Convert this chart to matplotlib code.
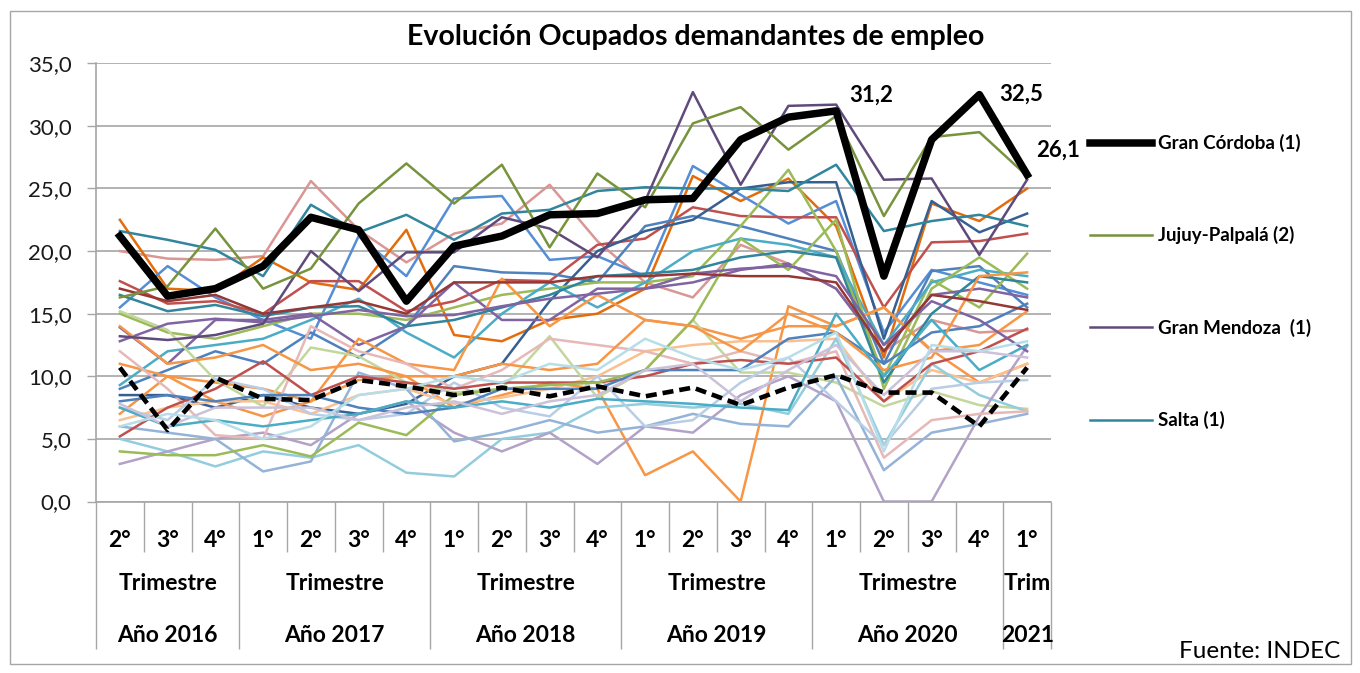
import matplotlib
matplotlib.use("Agg")
import matplotlib.pyplot as plt
from matplotlib.patches import Rectangle
import numpy as np

plt.rcParams['font.family'] = ['Lato', 'DejaVu Sans']

# ---------------- data ----------------
quarters = ["2°", "3°", "4°", "1°", "2°", "3°", "4°", "1°", "2°", "3°", "4°",
            "1°", "2°", "3°", "4°", "1°", "2°", "3°", "4°", "1°"]
year_groups = [("Trimestre", "Año 2016", 0, 2), ("Trimestre", "Año 2017", 3, 6),
               ("Trimestre", "Año 2018", 7, 10), ("Trimestre", "Año 2019", 11, 14),
               ("Trimestre", "Año 2020", 15, 18), ("Trim", "2021", 19, 19)]
yticks = [0, 5, 10, 15, 20, 25, 30, 35]
ytick_labels = ["0,0", "5,0", "10,0", "15,0", "20,0", "25,0", "30,0", "35,0"]

cordoba = [21.2, 16.4, 17.0, 18.8, 22.7, 21.7, 16.0, 20.4, 21.2, 22.9,
           23.0, 24.1, 24.2, 28.9, 30.7, 31.2, 18.0, 28.9, 32.5, 26.1]
dashed = [10.7, 5.7, 9.9, 8.2, 8.1, 9.7, 9.2, 8.5, 9.1, 8.4,
          9.2, 8.4, 9.1, 7.7, 9.1, 10.1, 8.7, 8.7, 6.0, 10.7]
jujuy = [16.3, 17.2, 21.8, 17.0, 18.6, 23.8, 27.0, 23.8, 26.9, 20.3,
         26.2, 23.5, 30.2, 31.5, 28.1, 30.8, 22.8, 29.1, 29.5, 26.0]
mendoza = [13.2, 12.9, 13.3, 14.2, 20.0, 16.8, 19.9, 19.9, 22.7, 21.8,
           19.5, 24.0, 32.7, 25.3, 31.6, 31.7, 25.7, 25.8, 19.7, 25.7]
salta = [21.6, 20.9, 20.1, 18.0, 23.7, 21.5, 22.9, 20.9, 23.0, 23.3,
         24.8, 25.1, 25.0, 25.0, 24.8, 26.9, 21.6, 22.4, 22.9, 22.0]

others = [
    ("#D99694", [20.0, 19.4, 19.3, 19.6, 25.6, 21.7, 19.1, 21.4, 22.2, 25.3, 20.8, 17.5, 16.3, 20.5, 19.0, 17.0, 12.0, 14.5, 13.5, 13.7]),
    ("#E46C0A", [22.5, 17.0, 16.8, 19.5, 17.5, 16.9, 21.7, 13.3, 12.8, 14.5, 15.0, 17.0, 26.0, 24.0, 25.8, 22.0, 11.5, 23.8, 22.4, 25.0]),
    ("#558ED5", [15.5, 18.8, 16.3, 14.5, 13.0, 21.2, 18.0, 24.2, 24.4, 19.3, 19.6, 18.0, 26.8, 24.5, 22.2, 24.0, 13.5, 18.5, 17.5, 16.5]),
    ("#C0504D", [17.6, 15.8, 16.0, 15.0, 17.6, 17.6, 15.2, 16.0, 17.7, 17.6, 20.5, 21.0, 23.5, 22.8, 22.7, 22.7, 15.5, 20.7, 20.8, 21.4]),
    ("#4F81BD", [9.0, 10.5, 12.0, 11.0, 13.5, 11.5, 14.0, 18.8, 18.3, 18.2, 17.5, 22.0, 22.8, 22.0, 21.0, 20.0, 11.0, 18.4, 18.8, 15.5]),
    ("#376092", [8.5, 8.5, 7.5, 8.5, 7.5, 7.0, 7.8, 10.0, 11.0, 16.0, 20.0, 21.6, 22.5, 25.0, 25.5, 25.5, 13.0, 24.0, 21.5, 23.0]),
    ("#9BBB59", [15.0, 13.5, 13.0, 14.0, 15.0, 15.0, 14.5, 15.5, 16.5, 17.0, 17.5, 17.5, 18.0, 22.0, 26.5, 20.0, 10.0, 17.7, 15.5, 19.8]),
    ("#4BACC6", [9.3, 12.0, 12.5, 13.0, 14.5, 16.2, 13.5, 11.5, 15.0, 17.5, 15.5, 17.5, 20.0, 21.0, 20.5, 19.5, 12.5, 17.5, 18.5, 18.0]),
    ("#8064A2", [13.9, 11.0, 14.5, 14.5, 15.0, 12.5, 14.0, 17.5, 14.5, 14.5, 17.0, 17.0, 17.5, 18.5, 19.0, 17.0, 12.0, 16.5, 17.0, 16.3]),
    ("#F79646", [7.0, 10.0, 8.0, 6.8, 8.0, 9.7, 10.0, 7.5, 8.5, 9.5, 9.0, 2.1, 4.0, 0.0, 15.6, 14.0, 15.5, 12.1, 9.5, 11.0]),
    ("#F79646", [11.0, 10.0, 9.5, 9.0, 8.0, 13.0, 11.0, 10.5, 17.8, 14.0, 16.5, 14.5, 14.0, 13.0, 14.0, 14.0, 15.5, 12.0, 12.5, 15.2]),
    ("#FAC090", [6.5, 7.5, 8.0, 8.0, 7.0, 8.5, 9.0, 7.8, 8.3, 9.0, 10.0, 12.0, 12.5, 12.8, 12.8, 13.0, 8.0, 10.5, 9.5, 11.0]),
    ("#C3D69B", [15.2, 13.7, 9.7, 7.6, 12.3, 11.6, 9.5, 8.7, 9.0, 13.2, 8.3, 10.5, 14.5, 10.3, 10.3, 9.5, 7.6, 8.8, 7.7, 7.4]),
    ("#93CDDD", [5.0, 4.0, 2.8, 4.0, 3.5, 4.5, 2.3, 2.0, 5.0, 5.5, 7.5, 7.8, 7.5, 7.8, 7.0, 13.0, 4.5, 11.0, 8.5, 7.2]),
    ("#B3A2C7", [3.0, 4.0, 5.0, 5.5, 4.5, 7.0, 8.0, 5.5, 4.0, 5.5, 3.0, 6.0, 5.5, 8.5, 10.0, 8.0, 0.0, 0.0, 6.8, 12.4]),
    ("#E6B9B8", [12.0, 9.0, 5.3, 5.0, 14.0, 12.0, 11.0, 9.0, 10.5, 13.0, 12.5, 12.0, 11.0, 12.0, 11.0, 12.0, 3.5, 6.5, 7.0, 7.2]),
    ("#95B3D7", [6.0, 5.5, 5.0, 2.4, 3.2, 10.3, 9.0, 4.8, 5.5, 6.5, 5.5, 6.0, 7.0, 6.2, 6.0, 10.0, 2.5, 5.5, 6.2, 7.0]),
    ("#B9CDE5", [7.5, 6.5, 9.8, 9.0, 7.0, 6.5, 7.0, 9.5, 7.5, 6.8, 10.0, 6.0, 6.5, 9.5, 11.5, 8.0, 4.5, 9.0, 9.5, 9.7]),
    ("#C0504D", [5.2, 7.5, 9.0, 11.2, 8.5, 10.0, 9.5, 9.0, 9.5, 9.5, 9.5, 10.0, 11.0, 11.3, 11.0, 11.5, 8.0, 11.0, 12.0, 13.8]),
    ("#9BBB59", [4.0, 3.7, 3.7, 4.5, 3.6, 6.3, 5.3, 8.5, 9.0, 9.3, 9.5, 10.5, 14.5, 21.0, 18.5, 22.5, 9.0, 17.0, 19.5, 17.0]),
    ("#31859C", [16.5, 15.2, 15.7, 14.8, 15.5, 15.6, 14.0, 14.5, 15.5, 16.5, 18.0, 18.2, 18.5, 19.5, 20.0, 19.5, 9.5, 15.0, 18.0, 17.5]),
    ("#4F81BD", [8.0, 8.5, 8.0, 8.5, 8.5, 7.5, 7.0, 7.5, 9.0, 9.0, 9.0, 10.5, 10.5, 10.5, 13.0, 13.5, 11.0, 13.5, 14.0, 15.8]),
    ("#8064A2", [12.8, 14.2, 14.6, 14.3, 14.8, 15.3, 14.8, 14.9, 15.6, 16.2, 16.6, 17.0, 18.2, 18.6, 18.8, 18.0, 12.5, 16.0, 14.5, 12.0]),
    ("#F79646", [14.0, 11.0, 11.5, 12.5, 10.5, 11.0, 10.0, 10.0, 11.0, 10.5, 11.0, 14.5, 14.0, 12.0, 15.0, 13.5, 10.5, 11.5, 18.0, 18.3]),
    ("#953735", [17.0, 16.0, 16.5, 15.0, 15.5, 16.0, 15.0, 17.5, 17.5, 17.5, 18.0, 18.0, 18.2, 18.0, 18.0, 17.5, 12.0, 16.5, 16.0, 15.3]),
    ("#4BACC6", [7.5, 6.0, 6.5, 6.0, 6.5, 7.0, 8.0, 7.5, 8.0, 7.5, 8.2, 8.0, 7.8, 7.5, 7.3, 15.0, 10.0, 14.5, 10.5, 12.5]),
    ("#CCC1DA", [7.8, 6.0, 7.5, 7.5, 7.5, 6.5, 7.5, 8.0, 7.0, 8.0, 8.5, 10.5, 11.0, 8.0, 10.5, 12.5, 8.5, 12.0, 12.0, 11.5]),
    ("#B7DEE8", [6.0, 7.0, 6.5, 5.0, 6.0, 8.5, 9.0, 10.0, 9.5, 11.0, 10.5, 13.0, 11.5, 10.5, 11.5, 13.5, 4.0, 12.5, 12.0, 12.8]),
]

# ---------------- figure ----------------
W, H = 1360, 673
fig = plt.figure(figsize=(W / 100, H / 100), dpi=100)
ax_l, ax_r, ax_t, ax_b = 96, 1051, 63.3, 501.5
ax = fig.add_axes([ax_l / W, 1 - ax_b / H, (ax_r - ax_l) / W, (ax_b - ax_t) / H])

x = np.arange(len(quarters))
lw = 1.8
for col, vals in others:
    ax.plot(x, vals, color=col, lw=lw, zorder=2)
l_sal, = ax.plot(x, salta, color="#31859C", lw=lw, zorder=3)
l_men, = ax.plot(x, mendoza, color="#604A7B", lw=lw, zorder=3)
l_juj, = ax.plot(x, jujuy, color="#77933C", lw=lw, zorder=3)
ax.plot(x, dashed, color="black", lw=3.3, ls=(0, (2.4, 1.3)), zorder=4)
l_cor, = ax.plot(x, cordoba, color="black", lw=5.4, zorder=5)

ax.set_xlim(-0.5, len(quarters) - 0.5)
ax.set_ylim(0, 35)
ax.set_yticks(yticks)
ax.set_yticklabels(ytick_labels, fontsize=16, color="#1a1a1a")
ax.tick_params(axis='y', length=6.5, width=1.0, color="#A6A6A6", pad=11)
ax.grid(axis='y', color="#A6A6A6", lw=1.2, zorder=0)
for s in ("top", "right"):
    ax.spines[s].set_visible(False)
for s in ("left", "bottom"):
    ax.spines[s].set_color("#A6A6A6")
    ax.spines[s].set_linewidth(1.2)

# category separators as ticks
year_bounds = [g[2] - 0.5 for g in year_groups] + [len(quarters) - 0.5]
ax.set_xticks(year_bounds)
ax.set_xticks(np.arange(-0.5, len(quarters)), minor=True)
ax.tick_params(axis='x', which='major', length=106, color="#A6A6A6", width=1.0, labelbottom=False)
ax.tick_params(axis='x', which='minor', length=36, color="#A6A6A6", width=1.0, labelbottom=False)

tr = ax.get_xaxis_transform()
for i, q in enumerate(quarters):
    ax.text(i, -0.088, q, transform=tr, ha='center', va='center', fontsize=16.5,
            fontweight='bold')
for top, bottom, a, b in year_groups:
    c = (a + b) / 2
    ax.text(c, -0.188, top, transform=tr, ha='center', va='center', fontsize=16.5,
            fontweight='bold')
    ax.text(c, -0.305, bottom, transform=tr, ha='center', va='center', fontsize=16.5,
            fontweight='bold')

# data labels
ax.annotate("31,2", (15, cordoba[15]), xytext=(25, 11), textcoords='offset points',
            ha='center', va='center', fontsize=16, fontweight='bold')
ax.annotate("32,5", (18, cordoba[18]), xytext=(30, 0), textcoords='offset points',
            ha='center', va='center', fontsize=16, fontweight='bold', annotation_clip=False)
ax.annotate("26,1", (19, cordoba[19]), xytext=(22, 18), textcoords='offset points',
            ha='center', va='center', fontsize=16, fontweight='bold', annotation_clip=False)

# title
fig.text(696 / W, 1 - 37 / H, "Evolución Ocupados demandantes de empleo", ha='center',
         va='center', fontsize=20.5, fontweight='bold')

# legend
leg = ax.legend([l_cor, l_juj, l_men, l_sal],
                ["Gran Córdoba (1)", "Jujuy-Palpalá (2)", "Gran Mendoza  (1)", "Salta (1)"],
                loc='upper left', bbox_to_anchor=(1090 / W, 1 - 134 / H),
                bbox_transform=fig.transFigure, frameon=False, fontsize=13.5,
                handlelength=3.3, handletextpad=0.3, labelspacing=3.96,
                borderaxespad=0, borderpad=0)
for t in leg.get_texts():
    t.set_fontweight('bold')

fig.text(1340 / W, 1 - 651 / H, "Fuente: INDEC", ha='right', va='center', fontsize=17.5)

fig.add_artist(Rectangle((9.5 / W, 9 / H), (W - 19) / W, (H - 20) / H, transform=fig.transFigure,
                         fill=False, edgecolor="#A6A6A6", lw=1.0))

fig.savefig("out.png", dpi=100)
